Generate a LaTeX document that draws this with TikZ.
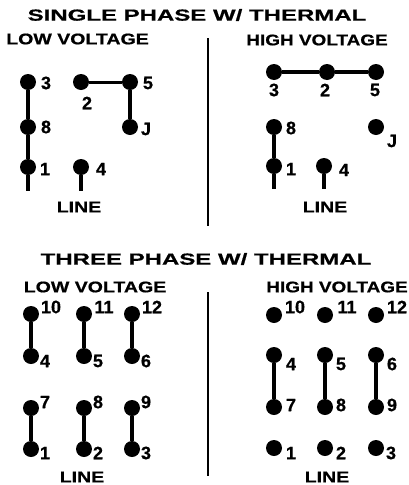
\documentclass[tikz,border=0pt]{standalone}
\usepackage{fontspec}
\setmainfont[BoldFeatures={FakeBold=0.6}]{Liberation Sans}
\tikzset{circ/.style = {fill, circle, inner sep = 0, outer sep = 0, minimum size = 16}}
\tikzset{wire/.style = {line width = 4}}
\tikzset{num/.style = {inner sep = 0, font = \bfseries\fontsize{18}{18}\selectfont}}
\tikzset{head/.style = {inner sep = 0, font = \bfseries\fontsize{15.5}{16}\selectfont, xscale = 1.26, transform shape}}
\tikzset{highhead/.style = {head, xscale = 0.97}}
\tikzset{title/.style = {inner sep = 0, font = \bfseries\fontsize{16}{16}\selectfont, xscale = 1.5, transform shape}}

\begin{document}
\begin{tikzpicture}[x=1pt, y=-1pt]
      \useasboundingbox (0, 0) rectangle (409, 485);

      \node [title] (titleA) at (197, 15) {SINGLE PHASE W/ THERMAL};
      \node [title] (titleB) at (206, 259) {THREE PHASE W/ THERMAL};

      \coordinate (divAa) at (208, 38);
      \coordinate (divAb) at (208, 226);
      \coordinate (divBa) at (208, 292);
      \coordinate (divBb) at (208, 476);
      \draw [line width = 2.5] (divAa) -- (divAb);
      \draw [line width = 2.5] (divBa) -- (divBb);

      % single phase, low voltage
      \node [head] (lowA) at (77.5, 39) {LOW VOLTAGE};
      \node [head] (lineA) at (79, 207) {LINE};

      \node [circ] (la3) at (28, 82) {};
      \node [circ] (la8) at (28, 127) {};
      \node [circ] (la1) at (28, 167) {};
      \node [circ] (la2) at (81, 82) {};
      \node [circ] (la5) at (130, 82) {};
      \node [circ] (laJ) at (130, 127) {};
      \node [circ] (la4) at (81, 167) {};
      \coordinate (la1end) at (28, 191);
      \coordinate (la4end) at (81, 191);

      \draw [wire] (la3) -- (la8);
      \draw [wire] (la8) -- (la1);
      \draw [wire] (la1) -- (la1end);
      \draw [wire] (la4) -- (la4end);
      \draw [line width = 3] (la2) -- (la5);
      \draw [wire] (la5) -- (laJ);

      \node [num] (tla3) at (46, 83) {3};
      \node [num] (tla8) at (46, 127) {8};
      \node [num] (tla1) at (45, 169) {1};
      \node [num] (tla2) at (87, 103) {2};
      \node [num] (tla5) at (148, 83) {5};
      \node [num] (tlaJ) at (146, 129) {J};
      \node [num] (tla4) at (101, 169) {4};

      % single phase, high voltage
      \node [highhead] (highA) at (317, 40) {HIGH VOLTAGE};
      \node [head] (lineB) at (325, 207) {LINE};

      \node [circ] (ha3) at (274, 72) {};
      \node [circ] (ha2) at (327, 72) {};
      \node [circ] (ha5) at (376, 72) {};
      \node [circ] (ha8) at (274, 127) {};
      \node [circ] (haJ) at (376, 127) {};
      \node [circ] (ha1) at (274, 166) {};
      \node [circ] (ha4) at (324, 166) {};
      \coordinate (ha1end) at (274, 189);
      \coordinate (ha4end) at (324, 189);

      \draw [wire] (ha3) -- (ha2);
      \draw [wire] (ha2) -- (ha5);
      \draw [wire] (ha8) -- (ha1);
      \draw [wire] (ha1) -- (ha1end);
      \draw [wire] (ha4) -- (ha4end);

      \node [num] (tha3) at (274, 90) {3};
      \node [num] (tha2) at (325, 90) {2};
      \node [num] (tha5) at (375, 90) {5};
      \node [num] (tha8) at (291, 128) {8};
      \node [num] (thaJ) at (392, 141) {J};
      \node [num] (tha1) at (291, 169) {1};
      \node [num] (tha4) at (344, 170) {4};

      % three phase, low voltage
      \node [head] (lowB) at (95, 287) {LOW VOLTAGE};
      \node [head] (lineC) at (82, 477) {LINE};

      \node [circ] (lb10) at (31, 314) {};
      \node [circ] (lb4) at (31, 356) {};
      \node [circ] (lb7) at (31, 408) {};
      \node [circ] (lb1) at (31, 449) {};
      \node [circ] (lb11) at (84, 314) {};
      \node [circ] (lb5) at (84, 356) {};
      \node [circ] (lb8) at (84, 408) {};
      \node [circ] (lb2) at (84, 449) {};
      \node [circ] (lb12) at (132, 314) {};
      \node [circ] (lb6) at (132, 356) {};
      \node [circ] (lb9) at (132, 408) {};
      \node [circ] (lb3) at (132, 449) {};

      \draw [wire] (lb10) -- (lb4);
      \draw [wire] (lb11) -- (lb5);
      \draw [wire] (lb12) -- (lb6);
      \draw [wire] (lb7) -- (lb1);
      \draw [wire] (lb8) -- (lb2);
      \draw [wire] (lb9) -- (lb3);

      \node [num] (tlb10) at (51, 307) {10};
      \node [num] (tlb11) at (104, 307) {11};
      \node [num] (tlb12) at (152, 307) {12};
      \node [num] (tlb4) at (45, 361) {4};
      \node [num] (tlb5) at (98, 361) {5};
      \node [num] (tlb6) at (146, 361) {6};
      \node [num] (tlb7) at (45, 402) {7};
      \node [num] (tlb8) at (98, 402) {8};
      \node [num] (tlb9) at (146, 402) {9};
      \node [num] (tlb1) at (45, 453) {1};
      \node [num] (tlb2) at (98, 453) {2};
      \node [num] (tlb3) at (146, 453) {3};

      % three phase, high voltage
      \node [highhead] (highB) at (337, 287) {HIGH VOLTAGE};
      \node [head] (lineD) at (327, 477) {LINE};

      \node [circ] (hb10) at (274, 315) {};
      \node [circ] (hb4) at (274, 355) {};
      \node [circ] (hb7) at (274, 407) {};
      \node [circ] (hb1) at (274, 448) {};
      \node [circ] (hb11) at (325, 315) {};
      \node [circ] (hb5) at (325, 355) {};
      \node [circ] (hb8) at (325, 407) {};
      \node [circ] (hb2) at (325, 448) {};
      \node [circ] (hb12) at (376, 315) {};
      \node [circ] (hb6) at (376, 355) {};
      \node [circ] (hb9) at (376, 407) {};
      \node [circ] (hb3) at (376, 448) {};

      \draw [wire] (hb4) -- (hb7);
      \draw [wire] (hb5) -- (hb8);
      \draw [wire] (hb6) -- (hb9);

      \node [num] (thb10) at (295, 307) {10};
      \node [num] (thb11) at (347, 307) {11};
      \node [num] (thb12) at (397, 307) {12};
      \node [num] (thb4) at (291, 364) {4};
      \node [num] (thb5) at (341, 364) {5};
      \node [num] (thb6) at (392, 364) {6};
      \node [num] (thb7) at (291, 405) {7};
      \node [num] (thb8) at (341, 405) {8};
      \node [num] (thb9) at (392, 405) {9};
      \node [num] (thb1) at (291, 453) {1};
      \node [num] (thb2) at (341, 453) {2};
      \node [num] (thb3) at (391, 453) {3};
    \end{tikzpicture}
\end{document}
